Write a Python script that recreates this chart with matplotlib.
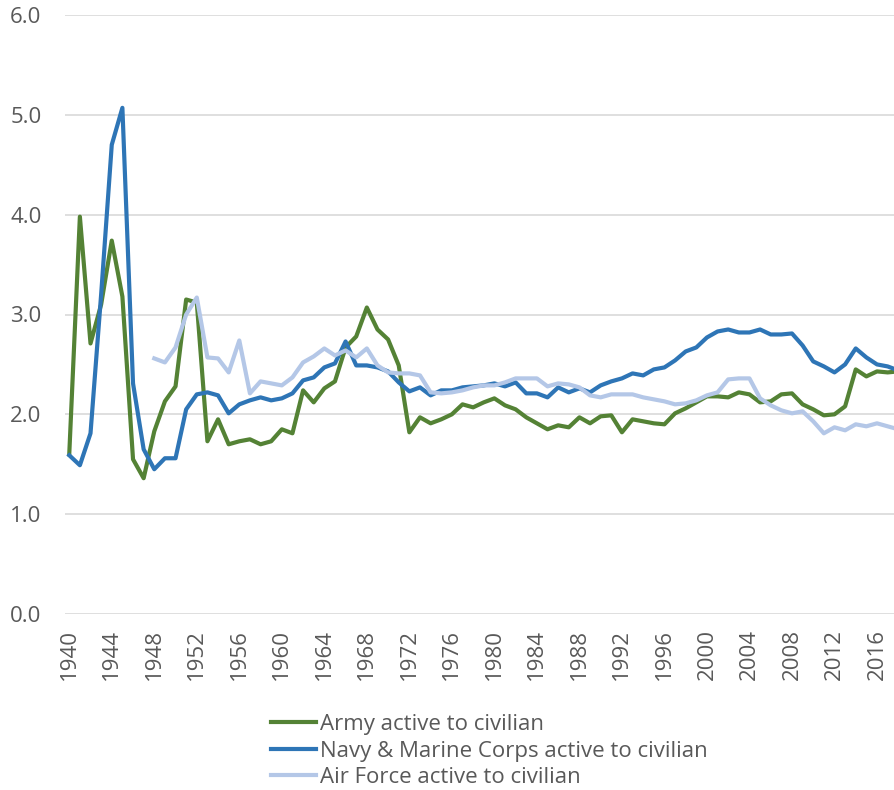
import matplotlib.pyplot as plt
import numpy as np

plt.rcParams['font.family'] = ['Open Sans', 'DejaVu Sans']

years = np.arange(1940, 2019)

army = [1.60, 3.98, 2.71, 3.10, 3.74, 3.18, 1.55, 1.36, 1.83, 2.13,
        2.28, 3.15, 3.12, 1.73, 1.95, 1.70, 1.73, 1.75, 1.70, 1.73,
        1.85, 1.81, 2.24, 2.12, 2.26, 2.33, 2.67, 2.78, 3.07, 2.85,
        2.75, 2.49, 1.82, 1.97, 1.91, 1.95, 2.00, 2.10, 2.07, 2.12,
        2.16, 2.09, 2.05, 1.97, 1.91, 1.85, 1.89, 1.87, 1.97, 1.91,
        1.98, 1.99, 1.82, 1.95, 1.93, 1.91, 1.90, 2.01, 2.06, 2.12,
        2.18, 2.18, 2.17, 2.22, 2.20, 2.12, 2.13, 2.20, 2.21, 2.10,
        2.05, 1.99, 2.00, 2.08, 2.45, 2.38, 2.43, 2.42, 2.43]

navy = [1.59, 1.49, 1.81, 3.20, 4.70, 5.07, 2.31, 1.65, 1.45, 1.56,
        1.56, 2.05, 2.20, 2.22, 2.19, 2.01, 2.10, 2.14, 2.17, 2.14,
        2.16, 2.21, 2.34, 2.37, 2.47, 2.51, 2.73, 2.49, 2.49, 2.47,
        2.43, 2.32, 2.23, 2.27, 2.19, 2.24, 2.24, 2.27, 2.28, 2.29,
        2.31, 2.28, 2.32, 2.21, 2.21, 2.17, 2.27, 2.22, 2.26, 2.22,
        2.29, 2.33, 2.36, 2.41, 2.39, 2.45, 2.47, 2.54, 2.63, 2.67,
        2.77, 2.83, 2.85, 2.82, 2.82, 2.85, 2.80, 2.80, 2.81, 2.69,
        2.53, 2.48, 2.42, 2.50, 2.66, 2.57, 2.50, 2.48, 2.44]

# Air Force starts in 1948
air_force = [np.nan] * 8 + [
        2.56, 2.52,
        2.67, 3.00, 3.17, 2.57, 2.56, 2.42, 2.74, 2.21, 2.33, 2.31,
        2.29, 2.37, 2.52, 2.58, 2.66, 2.59, 2.64, 2.57, 2.66, 2.49,
        2.42, 2.41, 2.41, 2.39, 2.22, 2.21, 2.22, 2.24, 2.27, 2.29,
        2.29, 2.32, 2.36, 2.36, 2.36, 2.28, 2.31, 2.30, 2.27, 2.19,
        2.17, 2.20, 2.20, 2.20, 2.17, 2.15, 2.13, 2.10, 2.11, 2.14,
        2.19, 2.22, 2.35, 2.36, 2.36, 2.16, 2.09, 2.04, 2.01, 2.03,
        1.93, 1.81, 1.87, 1.84, 1.90, 1.88, 1.91, 1.88, 1.85]

labels = ["Army active to civilian",
          "Navy & Marine Corps active to civilian",
          "Air Force active to civilian"]
colors = ["#548235", "#2E75B6", "#B4C7E7"]

fig = plt.figure(figsize=(8.94, 7.90), dpi=100)
ax = fig.add_axes([65 / 894, 1 - 614 / 790, 1 - 65 / 894, 599 / 790])

for vals, lab, col in zip([army, navy, air_force], labels, colors):
    ax.plot(years, vals, color=col, lw=3, label=lab, solid_joinstyle='round')

ax.set_ylim(0, 6)
ax.set_yticks(np.arange(0, 6.1, 1))
ax.set_yticklabels([f"{v:.1f}" for v in np.arange(0, 6.1, 1)])
ax.set_xlim(1939.6, 2017.6)
ax.set_xticks(np.arange(1940, 2017, 4))
ax.tick_params(axis='x', rotation=90, length=0, pad=11, labelsize=16, colors='#595959')
ax.tick_params(axis='y', length=0, pad=17, labelsize=16, colors='#595959')
ax.grid(axis='y', color='#D9D9D9', lw=1.2)
ax.set_axisbelow(True)
for s in ax.spines.values():
    s.set_visible(False)

fig.legend(loc='upper left', bbox_to_anchor=(260 / 894, 1 - 703 / 790),
           frameon=False, fontsize=16, handlelength=2.0, handletextpad=0.2,
           labelspacing=0.25, borderpad=0, labelcolor='#595959')

fig.savefig("out.png", dpi=100)
